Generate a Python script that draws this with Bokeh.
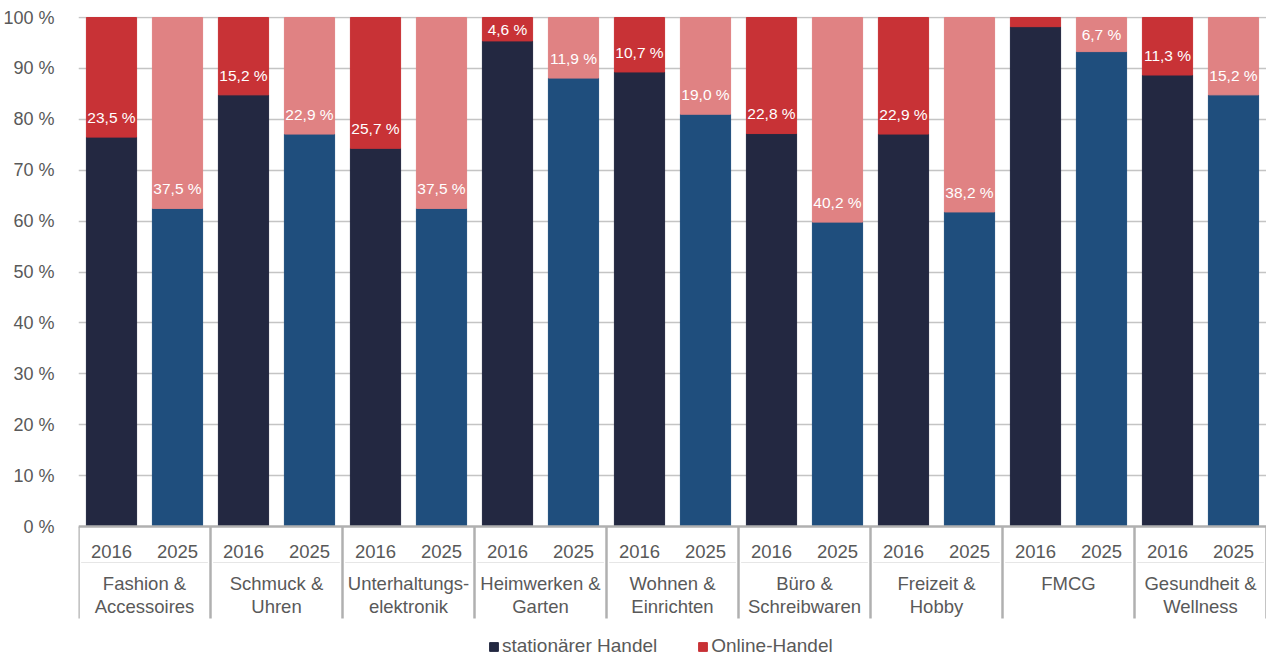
from bokeh.plotting import figure
from bokeh.models import (FactorRange, Range1d, FixedTicker, ColumnDataSource,
                          Legend, LegendItem, Span)
from bokeh.core.properties import value
from bokeh.embed import file_html
from bokeh.resources import INLINE

categories = ["Fashion &\nAccessoires", "Schmuck &\nUhren", "Unterhaltungs-\nelektronik",
              "Heimwerken &\nGarten", "Wohnen &\nEinrichten", "Büro &\nSchreibwaren",
              "Freizeit &\nHobby", "FMCG", "Gesundheit &\nWellness"]
years = ["2016", "2025"]
stationaer_2016 = [76.5, 84.8, 74.3, 95.4, 89.3, 77.2, 77.1, 98.2, 88.7]
stationaer_2025 = [62.5, 77.1, 62.5, 88.1, 81.0, 59.8, 61.8, 93.3, 84.8]
online_2016 = [23.5, 15.2, 25.7, 4.6, 10.7, 22.8, 22.9, 1.8, 11.3]
online_2025 = [37.5, 22.9, 37.5, 11.9, 19.0, 40.2, 38.2, 6.7, 15.2]
show_label_2016 = [True, True, True, True, True, True, True, False, True]
show_label_2025 = [True] * 9
y_ticks = [0, 10, 20, 30, 40, 50, 60, 70, 80, 90, 100]
series_names = ["stationärer Handel", "Online-Handel"]

colors_stat = {"2016": "#232841", "2025": "#1f4e7d"}
colors_onl = {"2016": "#c83236", "2025": "#e08283"}
GREY = "#595959"
FONT = "Liberation Sans"

x, stat, onl, cstat, conl, lab, laby = [], [], [], [], [], [], []
for i, cat in enumerate(categories):
    for yr, s_arr, o_arr, show in (("2016", stationaer_2016, online_2016, show_label_2016),
                                   ("2025", stationaer_2025, online_2025, show_label_2025)):
        s = s_arr[i]
        o = o_arr[i]
        x.append((cat, yr))
        stat.append(s)
        onl.append(o)
        cstat.append(colors_stat[yr])
        conl.append(colors_onl[yr])
        lab.append((f"{o:.1f}".replace(".", ",") + " %") if show[i] else "")
        laby.append(min(s + 3.85, (s + 100) / 2))

src = ColumnDataSource(dict(x=x, stat=stat, top=[100.0] * len(x), onl=onl,
                            cstat=cstat, conl=conl, lab=lab, laby=laby,
                            zero=[0.0] * len(x)))

factors = [(c, y) for c in categories for y in years]
xr = FactorRange(*factors, factor_padding=0, group_padding=0, range_padding=0)

px_per_unit = 5.09
frame_h = 641
y_end = 100 + 1.0 / px_per_unit
y_start = y_end - frame_h / px_per_unit

p = figure(width=1266, height=657, x_range=xr, y_range=Range1d(y_start, y_end),
           output_backend="svg", toolbar_location=None,
           min_border_left=69, min_border_right=0, min_border_top=16, min_border_bottom=0)
p.outline_line_color = None
p.xaxis.visible = False
p.xgrid.visible = False

p.yaxis.ticker = FixedTicker(ticks=y_ticks)
p.yaxis.major_label_overrides = {t: f"{t} %" for t in y_ticks}
p.yaxis.axis_line_color = None
p.yaxis.major_tick_line_color = None
p.yaxis.minor_tick_line_color = None
p.yaxis.major_label_standoff = 18
p.yaxis.major_label_text_font = FONT
p.yaxis.major_label_text_font_size = "18px"
p.yaxis.major_label_text_color = GREY
p.ygrid.ticker = FixedTicker(ticks=y_ticks[1:])
p.ygrid.grid_line_color = "#c4c4c4"
p.ygrid.grid_line_width = 1.6

r_stat = p.vbar(x="x", bottom="zero", top="stat", width=0.76, source=src,
                fill_color="cstat", line_color="cstat")
r_onl = p.vbar(x="x", bottom="stat", top="top", width=0.76, source=src,
               fill_color="conl", line_color="conl")

p.text(x="x", y="laby", text="lab", source=src, text_color="white",
       text_font=value(FONT), text_font_size="15.5px", text_align="center",
       text_baseline="middle")

# axis line at 0 and the category box
p.add_layout(Span(location=0, dimension="width", line_color="#b0b0b0", line_width=2.5))
sep_bottom = -(618 - 526) / px_per_unit
row_line = -(562 - 526) / px_per_unit
sep_x = [(c, "2016", -0.5) for c in categories] + [(categories[-1], "2025", 0.5)]
p.segment(x0=sep_x, x1=sep_x, y0=[0] * len(sep_x), y1=[sep_bottom] * len(sep_x),
          line_color="#b0b0b0", line_width=2.5)
p.segment(x0=[(c, "2016", -0.46) for c in categories],
          x1=[(c, "2025", 0.46) for c in categories],
          y0=[row_line] * 9, y1=[row_line] * 9, line_color="#e6e6e6", line_width=1)

# year labels
y_year = -(551 - 526) / px_per_unit
p.text(x=factors, y=[y_year] * len(factors), text=[f[1] for f in factors],
       text_color=GREY, text_font=value(FONT), text_font_size="18.5px",
       text_align="center", text_baseline="middle")

# category labels (two lines)
line1 = [c.split("\n")[0] for c in categories]
line2 = [c.split("\n")[1] if "\n" in c else "" for c in categories]
y_l1 = -(583 - 526) / px_per_unit
y_l2 = -(606 - 526) / px_per_unit
p.text(x=[(c, "2016", 0.5) for c in categories], y=[y_l1] * 9, text=line1,
       text_color=GREY, text_font=value(FONT), text_font_size="18.5px",
       text_align="center", text_baseline="middle")
p.text(x=[(c, "2016", 0.5) for c in categories], y=[y_l2] * 9, text=line2,
       text_color=GREY, text_font=value(FONT), text_font_size="18.5px",
       text_align="center", text_baseline="middle")

legend = Legend(items=[LegendItem(label=series_names[0], renderers=[r_stat], index=0),
                       LegendItem(label=series_names[1], renderers=[r_onl], index=0)],
                orientation="horizontal", location=(410, 0))
legend.padding = 0
legend.margin = 0
legend.spacing = 40
legend.glyph_width = 11
legend.glyph_height = 11
legend.label_standoff = 3
legend.label_height = 18
legend.label_text_font = FONT
legend.label_text_font_size = "19px"
legend.label_text_color = GREY
legend.label_text_baseline = "middle"
legend.background_fill_alpha = 0
legend.border_line_color = None
p.add_layout(legend, "center")

open("out.html", "w").write(file_html(p, INLINE))
